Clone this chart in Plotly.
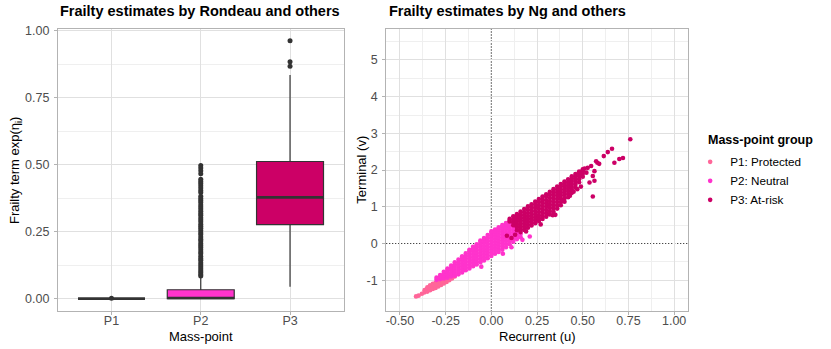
import plotly.graph_objects as go

W, H = 831, 349
FONT = "Liberation Sans, Arial, sans-serif"

COLORS = {
    "P1": "#ff6699",
    "P2": "#ff33cc",
    "P3": "#cc0066",
    "edge": "#333333",
    "grid": "#e0e0e0",
    "minor": "#efefef",
    "border": "#b3b3b3",
    "tick": "#4d4d4d",
}

# ---- left panel: box summaries ----
mass_points = ["P1", "P2", "P3"]
box_q1 = [0.0, 0.0, 0.276]
box_median = [0.0, 0.002, 0.378]
box_q3 = [0.0, 0.033, 0.512]
box_low = [0.0, 0.0, 0.044]
box_high = [0.0, 0.078, 0.835]
p1_outliers = [0.001]
p2_outliers = [
    0.497, 0.488, 0.477, 0.466, 0.446, 0.437, 0.430, 0.421, 0.413, 0.404,
    0.396, 0.382, 0.374, 0.366, 0.359, 0.350, 0.342, 0.335, 0.326, 0.318,
    0.311, 0.302, 0.294, 0.287, 0.278, 0.270, 0.263, 0.254, 0.246, 0.239,
    0.230, 0.222, 0.215, 0.206, 0.198, 0.191, 0.182, 0.174, 0.167, 0.158,
    0.150, 0.143, 0.134, 0.126, 0.119, 0.111, 0.104, 0.097, 0.090, 0.084,
]
p3_outliers = [0.963, 0.885, 0.868]

# ---- right panel: (u, v) estimates, grouped by u column ----
p1_cols = [
    (-0.412, [-1.44]),
    (-0.398, [-1.42]),
    (-0.380, [-1.37]),
    (-0.365, [-1.33, -1.27]),
    (-0.350, [-1.31, -1.24, -1.19]),
    (-0.335, [-1.27, -1.20, -1.14]),
    (-0.320, [-1.24, -1.17, -1.10]),
    (-0.305, [-1.21, -1.14, -1.07]),
    (-0.290, [-1.17, -1.10, -1.03]),
    (-0.275, [-1.13, -1.06, -0.99]),
    (-0.260, [-1.09, -1.02, -0.95]),
    (-0.245, [-1.05, -0.98, -0.91]),
    (-0.230, [-1.00, -0.93, -0.86]),
    (-0.215, [-0.95, -0.88]),
    (-0.200, [-0.90]),
]
p2_cols = [
    (-0.30, [-0.99, -0.93]),
    (-0.28, [-0.97, -0.91, -0.86]),
    (-0.26, [-0.95, -0.88, -0.82, -0.77]),
    (-0.24, [-0.93, -0.86, -0.79, -0.72, -0.68]),
    (-0.22, [-0.90, -0.82, -0.74, -0.67, -0.60]),
    (-0.20, [-0.88, -0.80, -0.72, -0.64, -0.57, -0.51]),
    (-0.18, [-0.84, -0.76, -0.68, -0.60, -0.52, -0.44]),
    (-0.16, [-0.79, -0.71, -0.63, -0.55, -0.47, -0.40, -0.35]),
    (-0.14, [-0.73, -0.65, -0.57, -0.49, -0.41, -0.34, -0.27]),
    (-0.12, [-0.68, -0.60, -0.52, -0.44, -0.36, -0.28, -0.21, -0.17]),
    (-0.10, [-0.62, -0.54, -0.46, -0.38, -0.30, -0.22, -0.15, -0.09]),
    (-0.08, [-0.57, -0.49, -0.41, -0.33, -0.25, -0.17, -0.09, -0.02]),
    (-0.06, [-0.51, -0.43, -0.35, -0.27, -0.19, -0.11, -0.03, 0.04, 0.08]),
    (-0.04, [-0.46, -0.38, -0.30, -0.22, -0.14, -0.06, 0.02, 0.09, 0.15]),
    (-0.02, [-0.40, -0.32, -0.24, -0.16, -0.08, 0.00, 0.08, 0.16, 0.23]),
    (0.00, [-0.34, -0.26, -0.18, -0.10, -0.02, 0.06, 0.14, 0.22, 0.29, 0.33]),
    (0.02, [-0.28, -0.20, -0.12, -0.04, 0.04, 0.12, 0.20, 0.27, 0.34, 0.38]),
    (0.04, [-0.23, -0.15, -0.07, 0.01, 0.09, 0.17, 0.25, 0.32, 0.39, 0.44]),
    (0.06, [-0.17, -0.09, -0.01, 0.07, 0.15, 0.23, 0.31, 0.38, 0.45, 0.50]),
    (0.08, [-0.10, -0.02, 0.06, 0.14, 0.22, 0.30, 0.38, 0.45, 0.51, 0.56]),
    (0.10, [-0.02, 0.06, 0.14, 0.22, 0.30, 0.38, 0.46, 0.53, 0.59, 0.63]),
    (0.12, [0.05, 0.13, 0.21, 0.29, 0.37, 0.45, 0.53, 0.60]),
    (0.14, [0.12, 0.20, 0.28, 0.36, 0.45]),
    (0.16, [0.17, 0.26]),
]
p2_extra_u = [0.21, 0.063, -0.055, 0.17, 0.11]
p2_extra_v = [0.19, -0.28, -0.63, 0.10, -0.10]

p3_cols = [
    (0.10, [0.60, 0.67]),
    (0.12, [0.50, 0.58, 0.66, 0.74]),
    (0.14, [0.36, 0.44, 0.52, 0.60, 0.67, 0.74, 0.80]),
    (0.16, [0.31, 0.39, 0.47, 0.55, 0.63, 0.71, 0.79, 0.87]),
    (0.18, [0.37, 0.45, 0.53, 0.61, 0.69, 0.77, 0.85, 0.94]),
    (0.20, [0.43, 0.51, 0.59, 0.67, 0.75, 0.83, 0.92, 1.01]),
    (0.22, [0.49, 0.57, 0.65, 0.73, 0.81, 0.90, 0.99, 1.07]),
    (0.24, [0.55, 0.63, 0.71, 0.79, 0.88, 0.97, 1.06, 1.14]),
    (0.26, [0.61, 0.69, 0.77, 0.86, 0.95, 1.04, 1.13, 1.21]),
    (0.28, [0.67, 0.75, 0.84, 0.93, 1.02, 1.11, 1.20, 1.28]),
    (0.30, [0.73, 0.82, 0.91, 1.00, 1.09, 1.18, 1.27, 1.34]),
    (0.32, [0.79, 0.88, 0.97, 1.06, 1.15, 1.24, 1.33, 1.41]),
    (0.34, [0.86, 0.95, 1.04, 1.13, 1.22, 1.31, 1.40, 1.48]),
    (0.36, [0.95, 1.04, 1.13, 1.22, 1.31, 1.39, 1.47, 1.55]),
    (0.38, [1.04, 1.13, 1.22, 1.31, 1.39, 1.47, 1.55, 1.62]),
    (0.40, [1.14, 1.23, 1.32, 1.40, 1.48, 1.56, 1.63, 1.69]),
    (0.42, [1.26, 1.35, 1.43, 1.51, 1.59, 1.67, 1.75]),
    (0.44, [1.38, 1.46, 1.54, 1.62, 1.70, 1.77, 1.83]),
    (0.46, [1.52, 1.60, 1.68, 1.76, 1.83, 1.89]),
    (0.48, [1.67, 1.75, 1.83, 1.90, 1.96]),
    (0.50, [1.82, 1.90, 1.97, 2.02]),
]
p3_extra_u = [0.085, 0.11, 0.13, 0.19, 0.27, 0.336, 0.35, 0.39, 0.43, 0.45,
              0.47, 0.49, 0.555, 0.537, 0.564, 0.555, 0.564, 0.546, 0.527, 0.51,
              0.52, 0.573, 0.58, 0.59, 0.615, 0.637, 0.66, 0.673, 0.70, 0.72, 0.76]
p3_extra_v = [0.21, 0.15, 0.24, 0.33, 0.52, 0.77, 0.78, 1.17, 1.30, 1.41,
              1.48, 1.55, 1.28, 1.66, 1.71, 1.84, 1.97, 2.11, 2.06, 2.04,
              1.93, 2.24, 2.20, 2.17, 2.38, 2.49, 2.58, 2.20, 2.30, 2.33, 2.84]

group_names = ["P1: Protected", "P2: Neutral", "P3: At-risk"]


def flatten(cols, extra_u=(), extra_v=()):
    us, vs = [], []
    for u, col in cols:
        us += [u] * len(col)
        vs += col
    return us + list(extra_u), vs + list(extra_v)


def px(x):
    return x / W


def py(y):
    return 1 - y / H


fig = go.Figure()

# boxes
BOX_W = 0.75
outliers = [p1_outliers, p2_outliers, p3_outliers]
for i, mp in enumerate(mass_points):
    pos = i + 1
    fig.add_trace(
        go.Box(
            x=[pos],
            q1=[box_q1[i]],
            median=[box_median[i]],
            q3=[box_q3[i]],
            lowerfence=[box_low[i]],
            upperfence=[box_high[i]],
            width=BOX_W,
            whiskerwidth=0,
            fillcolor=COLORS[mp],
            line=dict(color=COLORS["edge"], width=1.2),
            boxpoints=False,
            showlegend=False,
            xaxis="x",
            yaxis="y",
        )
    )
    fig.add_trace(
        go.Scatter(
            x=[pos - BOX_W / 2, pos + BOX_W / 2],
            y=[box_median[i]] * 2,
            mode="lines",
            line=dict(color=COLORS["edge"], width=2.6),
            showlegend=False,
            xaxis="x",
            yaxis="y",
        )
    )
    fig.add_trace(
        go.Scatter(
            x=[pos] * len(outliers[i]),
            y=outliers[i],
            mode="markers",
            marker=dict(color=COLORS["edge"], size=5),
            showlegend=False,
            xaxis="x",
            yaxis="y",
        )
    )

# scatter groups
groups = [
    flatten(p1_cols),
    flatten(p2_cols, p2_extra_u, p2_extra_v),
    flatten(p3_cols, p3_extra_u, p3_extra_v),
]
for mp, name, (us, vs) in zip(mass_points, group_names, groups):
    fig.add_trace(
        go.Scatter(
            x=us,
            y=vs,
            mode="markers",
            name=name,
            marker=dict(color=COLORS[mp], size=4.6, line=dict(width=0)),
            xaxis="x2",
            yaxis="y2",
        )
    )

axis_common = dict(
    showline=True,
    mirror=True,
    linecolor=COLORS["border"],
    linewidth=1,
    gridcolor=COLORS["grid"],
    gridwidth=1,
    ticks="outside",
    ticklen=3,
    tickcolor=COLORS["border"],
    tickfont=dict(family=FONT, size=12.5, color=COLORS["tick"]),
)
# invisible zero line on the scatter axes: drops the grid line at 0 so the
# dotted reference lines underneath stay visible
hidden_zero = dict(zeroline=True, zerolinecolor="rgba(0,0,0,0)", zerolinewidth=1)

fig.update_layout(
    width=W,
    height=H,
    margin=dict(l=0, r=0, t=0, b=0),
    paper_bgcolor="white",
    plot_bgcolor="white",
    font=dict(family=FONT, color="black"),
    xaxis=dict(
        domain=[px(57), px(343)],
        range=[0.4, 3.6],
        tickvals=[1, 2, 3],
        ticktext=mass_points,
        ticklabelstandoff=-5,
        zeroline=False,
        anchor="y",
        **axis_common,
    ),
    yaxis=dict(
        domain=[py(311), py(25)],
        range=[-0.048, 1.008],
        tickvals=[0, 0.25, 0.5, 0.75, 1.0],
        ticktext=["0.00", "0.25", "0.50", "0.75", "1.00"],
        minor=dict(tickvals=[0.125, 0.375, 0.625, 0.875], showgrid=True,
                   gridcolor=COLORS["minor"], ticks=""),
        ticklabelstandoff=2,
        zeroline=False,
        anchor="x",
        **axis_common,
    ),
    xaxis2=dict(
        domain=[px(385.7), px(687.7)],
        range=[-0.575, 1.075],
        tickvals=[-0.5, -0.25, 0, 0.25, 0.5, 0.75, 1.0],
        ticktext=["-0.50", "-0.25", "0.00", "0.25", "0.50", "0.75", "1.00"],
        minor=dict(tickvals=[-0.375, -0.125, 0.125, 0.375, 0.625, 0.875],
                   showgrid=True, gridcolor=COLORS["minor"], ticks=""),
        ticklabelstandoff=-5,
        anchor="y2",
        **hidden_zero,
        **axis_common,
    ),
    yaxis2=dict(
        domain=[py(311), py(25)],
        range=[-1.85, 5.85],
        tickvals=[-1, 0, 1, 2, 3, 4, 5],
        ticktext=["-1", "0", "1", "2", "3", "4", "5"],
        minor=dict(tickvals=[-1.5, -0.5, 0.5, 1.5, 2.5, 3.5, 4.5, 5.5],
                   showgrid=True, gridcolor=COLORS["minor"], ticks=""),
        ticklabelstandoff=2,
        anchor="x2",
        **hidden_zero,
        **axis_common,
    ),
    legend=dict(
        x=px(690),
        y=py(145),
        xanchor="left",
        yanchor="top",
        font=dict(family=FONT, size=11.7, color="black"),
        bgcolor="rgba(0,0,0,0)",
        itemsizing="trace",
        tracegroupgap=0,
    ),
    boxmode="overlay",
)

# dotted reference lines at zero, beneath the points
zero_line = dict(color="#111111", width=1.2, dash="1px,2px")
fig.add_shape(type="line", xref="x2", yref="y2 domain", x0=0, x1=0, y0=0, y1=1,
              line=zero_line, layer="below")
fig.add_shape(type="line", xref="x2 domain", yref="y2", x0=0, x1=1, y0=0, y1=0,
              line=zero_line, layer="below")

title_font = dict(family=FONT, size=14.5, color="black", weight="bold")
label_font = dict(family=FONT, size=13, color="black")
annotations = [
    dict(text="Frailty estimates by Rondeau and others", x=px(57), y=py(7.5),
         xanchor="left", yanchor="middle", font=title_font),
    dict(text="Frailty estimates by Ng and others", x=px(386), y=py(7.5),
         xanchor="left", yanchor="middle", font=title_font),
    dict(text="Mass-point", x=px(200), y=py(336), xanchor="center",
         yanchor="middle", font=label_font),
    dict(text="Recurrent (u)", x=px(536.7), y=py(336), xanchor="center",
         yanchor="middle", font=label_font),
    dict(text="Frailty term exp(η<sub>i</sub>)", x=px(14), y=py(168),
         xanchor="center", yanchor="middle", textangle=-90, font=label_font),
    dict(text="Terminal (v)", x=px(361), y=py(168), xanchor="center",
         yanchor="middle", textangle=-90, font=label_font),
    dict(text="Mass-point group", x=px(706), y=py(138), xanchor="left",
         yanchor="middle", font=dict(family=FONT, size=12.5, color="black",
                                     weight="bold")),
]
for a in annotations:
    a.update(xref="paper", yref="paper", showarrow=False)
fig.update_layout(annotations=annotations)

fig.write_html(
    "out.html",
    config={"displayModeBar": False},
    post_script="document.body.style.margin='0px';",
)
